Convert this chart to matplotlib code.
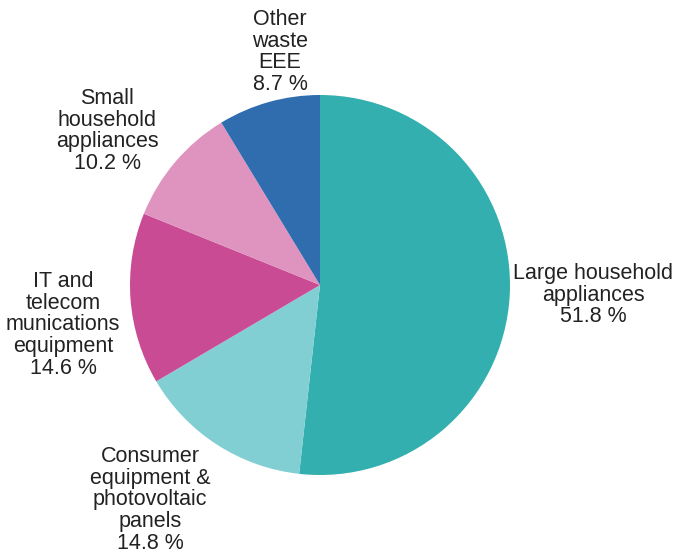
import matplotlib
matplotlib.use("Agg")
import matplotlib.pyplot as plt

# Share of e-waste by category (clockwise from 12 o'clock)
categories = [
    "Large household\nappliances",
    "Consumer\nequipment &\nphotovoltaic\npanels",
    "IT and\ntelecom\nmunications\nequipment",
    "Small\nhousehold\nappliances",
    "Other\nwaste\nEEE",
]
shares = [51.8, 14.8, 14.6, 10.2, 8.7]
colors = ["#32AFAE", "#82CFD3", "#C94B93", "#DE94BF", "#2F6DAF"]

# label anchor points (pixel space, y measured from the bottom)
label_xy = [(593, 261), (150, 56), (63, 231), (107, 425), (280, 504)]

plt.rcParams["font.family"] = ["Liberation Sans", "DejaVu Sans"]

W, H = 675, 556
fig = plt.figure(figsize=(W / 100, H / 100), dpi=100)
ax = fig.add_axes([0, 0, 1, 1])

ax.pie(shares, colors=colors, startangle=90, counterclock=False,
       center=(320, 271), radius=190, frame=True,
       wedgeprops=dict(linewidth=0))
ax.set_xlim(0, W)
ax.set_ylim(0, H)
ax.set_aspect("equal")
ax.axis("off")

for name, val, (x, y) in zip(categories, shares, label_xy):
    ax.text(x, y, f"{name}\n{val:.1f} %", ha="center", va="center",
            fontsize=15.5, color="#222222", linespacing=1.05)

fig.savefig("out.png", dpi=100)
